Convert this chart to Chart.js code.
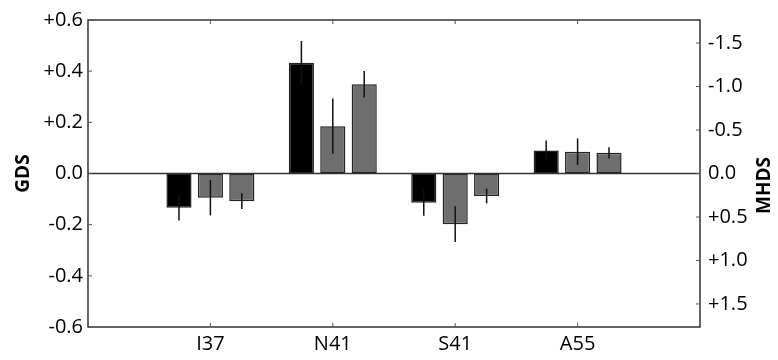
<!DOCTYPE html>
<html>
<head>
<meta charset="utf-8">
<script src="https://cdn.jsdelivr.net/npm/chart.js@4"></script>
<style>
  html, body { margin: 0; padding: 0; background: #fff; }
  #wrap { width: 778px; height: 360px; }
</style>
</head>
<body>
<div id="wrap"><canvas id="chart"></canvas></div>
<script>
// categories (blank ends pad the axis like the original)
const sites = ['', 'I37', 'N41', 'S41', 'A55', ''];

// bar heights (GDS) and symmetric error bars
const blackVals = [null, -0.134, 0.433, -0.114, 0.090, null];
const blackErr  = [null, 0.050, 0.085, 0.051, 0.039, null];
const gray1Vals = [null, -0.095, 0.185, -0.198, 0.085, null];
const gray1Err  = [null, 0.069, 0.108, 0.070, 0.052, null];
const gray2Vals = [null, -0.108, 0.349, -0.088, 0.081, null];
const gray2Err  = [null, 0.031, 0.052, 0.029, 0.022, null];

// tick values
const gdsTicks  = [-0.6, -0.4, -0.2, 0, 0.2, 0.4, 0.6];
const mhdsTicks = [-1.5, -1.0, -0.5, 0, 0.5, 1.0, 1.5];
const mhdsLimit = 1.765;

const FONT = 'Open Sans';

function signed(v, digits) {
  if (Math.abs(v) < 1e-9) return (0).toFixed(digits);
  return (v > 0 ? '+' : '') + v.toFixed(digits);
}

// frame, inward ticks, zero line, error bars, axis titles
const decor = {
  id: 'decor',
  afterDatasetsDraw(chart) {
    const { ctx, chartArea: a, scales } = chart;
    const y = scales.y, y2 = scales.y2, x = scales.x;
    ctx.save();
    ctx.lineWidth = 1.5;

    // error bars
    const errs = [blackErr, gray1Err, gray2Err];
    const vals = [blackVals, gray1Vals, gray2Vals];
    chart.data.datasets.forEach((ds, di) => {
      const meta = chart.getDatasetMeta(di);
      meta.data.forEach((bar, i) => {
        if (vals[di][i] == null) return;
        const v = vals[di][i], e = errs[di][i];
        ctx.beginPath();
        ctx.moveTo(bar.x, y.getPixelForValue(v - e));
        ctx.lineTo(bar.x, y.getPixelForValue(v + e));
        ctx.strokeStyle = '#111';
        ctx.stroke();
      });
    });

    // zero line
    ctx.strokeStyle = '#333';
    const z = y.getPixelForValue(0);
    ctx.beginPath();
    ctx.moveTo(a.left, z);
    ctx.lineTo(a.right, z);
    ctx.stroke();

    // frame
    ctx.strokeRect(a.left, a.top, a.right - a.left, a.bottom - a.top);

    // inward tick marks
    ctx.lineWidth = 1;
    ctx.strokeStyle = '#555';
    const tl = 4;
    ctx.beginPath();
    gdsTicks.forEach(t => {
      const p = y.getPixelForValue(t);
      ctx.moveTo(a.left, p); ctx.lineTo(a.left + tl, p);
    });
    mhdsTicks.forEach(t => {
      const p = y2.getPixelForValue(t);
      ctx.moveTo(a.right, p); ctx.lineTo(a.right - tl, p);
    });
    sites.forEach((s, i) => {
      if (!s) return;
      const p = x.getPixelForValue(i);
      ctx.moveTo(p, a.bottom); ctx.lineTo(p, a.bottom - tl);
      ctx.moveTo(p, a.top); ctx.lineTo(p, a.top + tl);
    });
    ctx.stroke();

    // axis titles (both read bottom-to-top)
    ctx.fillStyle = '#000';
    ctx.font = 'bold 19px "' + FONT + '"';
    ctx.textAlign = 'center';
    ctx.textBaseline = 'middle';
    const cy = (a.top + a.bottom) / 2;
    ctx.translate(24, cy);
    ctx.rotate(-Math.PI / 2);
    ctx.fillText('GDS', 0, 0);
    ctx.setTransform(1, 0, 0, 1, 0, 0);
    ctx.translate(765, cy + 12);
    ctx.rotate(-Math.PI / 2);
    ctx.fillText('MHDS', 0, 0);
    ctx.restore();
  }
};

const barCommon = {
  borderColor: '#222',
  borderWidth: 1.5,
  borderSkipped: false,
  categoryPercentage: 0.77,
  barPercentage: 0.8,
  yAxisID: 'y'
};

new Chart(document.getElementById('chart'), {
  type: 'bar',
  data: {
    labels: sites,
    datasets: [
      Object.assign({ label: 'a', data: blackVals, backgroundColor: '#000000' }, barCommon),
      Object.assign({ label: 'b', data: gray1Vals, backgroundColor: '#6e6e6e' }, barCommon),
      Object.assign({ label: 'c', data: gray2Vals, backgroundColor: '#6e6e6e' }, barCommon)
    ]
  },
  options: {
    responsive: true,
    maintainAspectRatio: false,
    animation: false,
    layout: { padding: { top: 20, bottom: 0, left: 0, right: 0 } },
    plugins: { legend: { display: false }, tooltip: { enabled: false } },
    scales: {
      x: {
        offset: false,
        grid: { display: false, drawTicks: false },
        border: { display: false },
        ticks: { color: '#000', font: { family: FONT, size: 20 }, padding: 5, maxRotation: 0, autoSkip: false },
        afterFit: s => { s.height = 33; }
      },
      y: {
        position: 'left',
        min: -0.6, max: 0.6,
        grid: { display: false, drawTicks: false },
        border: { display: false },
        afterBuildTicks: s => { s.ticks = gdsTicks.map(v => ({ value: v })); },
        ticks: {
          color: '#000', font: { family: FONT, size: 20 }, padding: 5,
          callback: v => signed(v, 1)
        },
        afterFit: s => { s.width = 88; }
      },
      y2: {
        position: 'right',
        reverse: true,
        min: -mhdsLimit, max: mhdsLimit,
        grid: { display: false, drawTicks: false },
        border: { display: false },
        afterBuildTicks: s => { s.ticks = mhdsTicks.map(v => ({ value: v })); },
        ticks: {
          color: '#000', font: { family: FONT, size: 20 }, padding: 8,
          callback: v => signed(v, 1)
        },
        afterFit: s => { s.width = 78; }
      }
    }
  },
  plugins: [decor]
});
</script>
</body>
</html>
